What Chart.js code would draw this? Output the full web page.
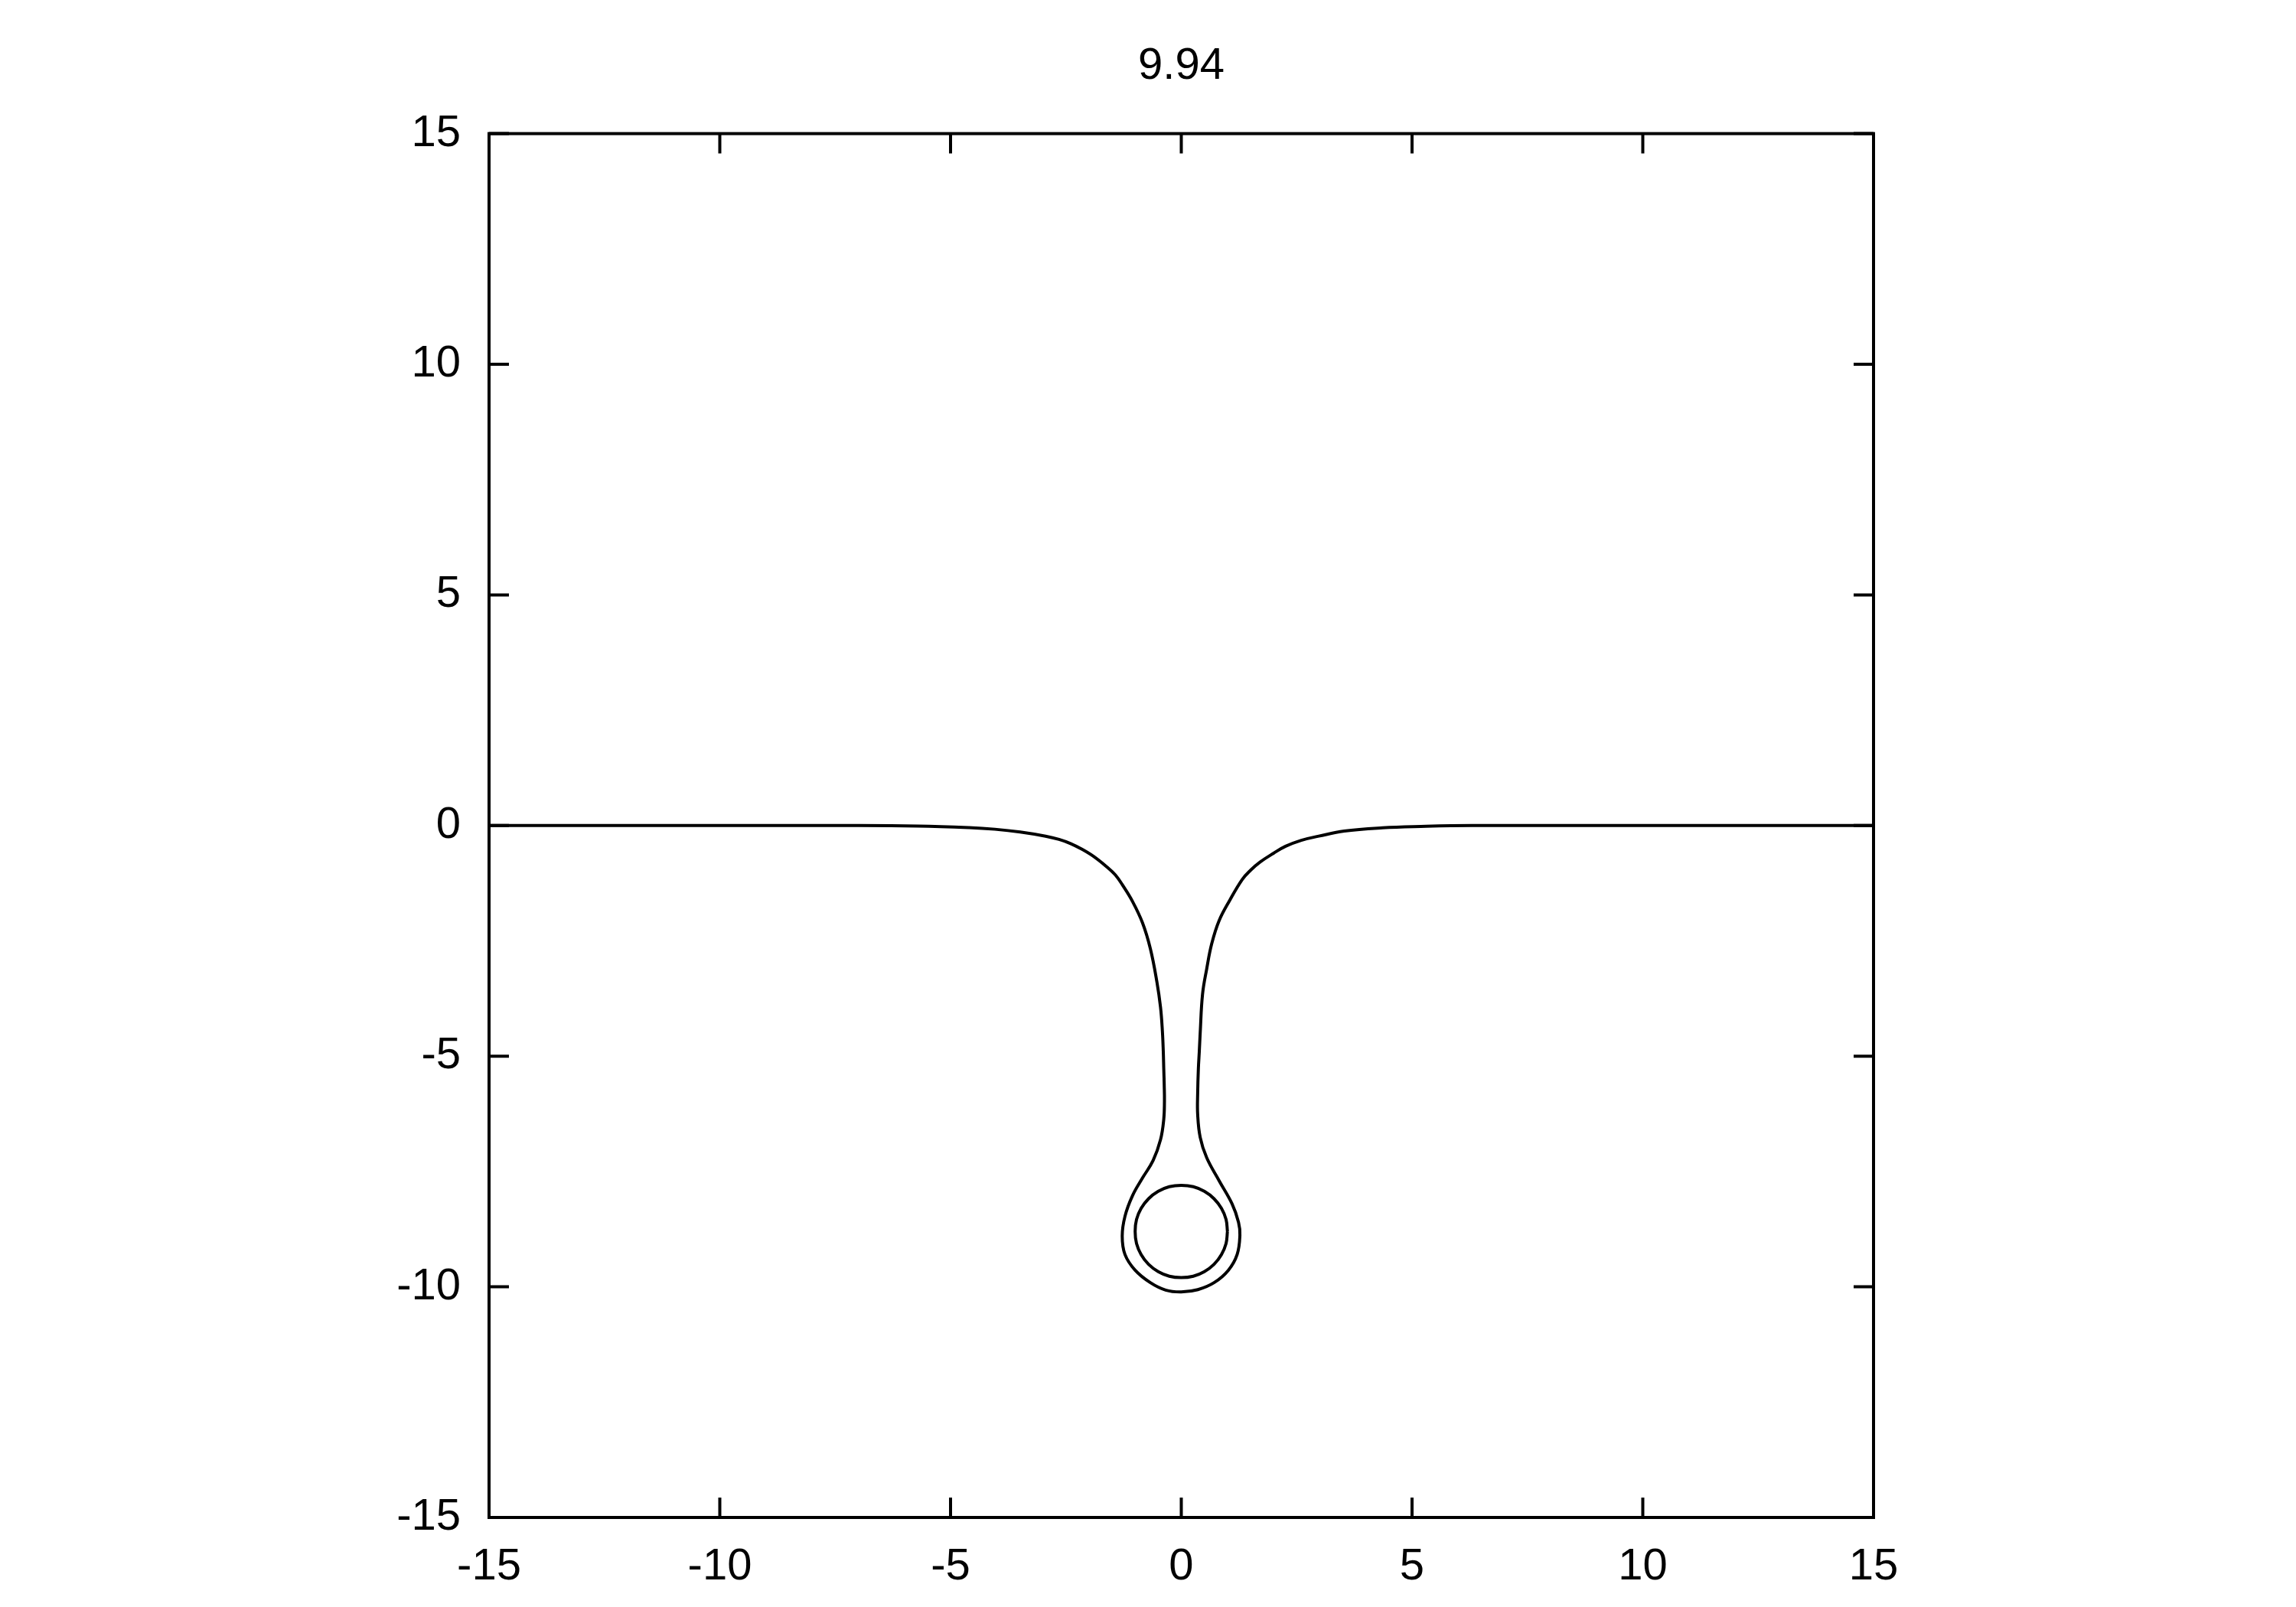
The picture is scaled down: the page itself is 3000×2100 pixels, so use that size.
<!DOCTYPE html>
<html>
<head>
<meta charset="utf-8">
<title>9.94</title>
<script src="https://cdn.jsdelivr.net/npm/chart.js@4.4.1/dist/chart.umd.min.js"></script>
<style>
  html, body { margin: 0; padding: 0; background: #fff; }
</style>
</head>
<body>
<canvas id="chart" width="3000" height="2100"></canvas>
<script>
// titre du graphe
const titleText = "9.94";

// graduations des axes
const xTicks = [-15, -10, -5, 0, 5, 10, 15];
const yTicks = [-15, -10, -5, 0, 5, 10, 15];

// courbe principale : de x=-15 vers le col, autour de la goutte, puis vers x=15
const curveX = [
  -15, -10, -7.4, -5.7, -4.6, -4.04, -3.49, -2.94, -2.65, -2.4, -2.16, -1.9, -1.61,
  -1.43, -1.28, -1.06, -0.84, -0.67, -0.53, -0.45, -0.41, -0.39, -0.38, -0.37, -0.365,
  -0.38, -0.45, -0.61, -0.84, -1.06, -1.22, -1.28, -1.22, -1.0, -0.67, -0.34, 0,
  0.36, 0.71, 1.02, 1.21, 1.27, 1.24, 1.1, 0.82, 0.55, 0.41, 0.355, 0.355, 0.37,
  0.39, 0.41, 0.46, 0.55, 0.66, 0.82, 1.05, 1.32, 1.5, 1.71, 2.0, 2.26, 2.6,
  2.98, 3.53, 4.36, 5.19, 6.3, 10, 15
];
const curveY = [
  0, 0, 0, -0.01, -0.045, -0.08, -0.14, -0.23, -0.3, -0.39, -0.51, -0.67, -0.9,
  -1.07, -1.28, -1.64, -2.11, -2.67, -3.38, -3.94, -4.45, -4.9, -5.27, -5.62, -5.98,
  -6.37, -6.81, -7.26, -7.64, -8.03, -8.47, -8.9, -9.3, -9.64, -9.91, -10.07, -10.11,
  -10.06, -9.91, -9.64, -9.3, -8.88, -8.6, -8.2, -7.7, -7.2, -6.76, -6.26, -5.8, -5.27,
  -4.9, -4.49, -3.66, -3.11, -2.56, -2.06, -1.62, -1.17, -0.97, -0.79, -0.6, -0.45, -0.32,
  -0.23, -0.12, -0.05, -0.02, 0, 0, 0
];

// petit cercle interieur
const ringX = [
  1.0, 0.97, 0.87, 0.71, 0.5, 0.26, 0, -0.26, -0.5, -0.71, -0.87, -0.97,
  -1.0, -0.97, -0.87, -0.71, -0.5, -0.26, 0, 0.26, 0.5, 0.71, 0.87, 0.97, 1.0
];
const ringY = [
  -8.8, -8.54, -8.3, -8.09, -7.93, -7.83, -7.8, -7.83, -7.93, -8.09, -8.3, -8.54,
  -8.8, -9.06, -9.3, -9.51, -9.67, -9.77, -9.8, -9.77, -9.67, -9.51, -9.3, -9.06, -8.8
];

const FONT = "'Liberation Sans', Arial, sans-serif";

function toPoints(xs, ys) {
  return xs.map((x, i) => ({ x: x, y: ys[i] }));
}

// cadre et graduations interieures, facon gnuplot
const frameTicks = {
  id: "frameTicks",
  afterDraw(chart) {
    const ctx = chart.ctx;
    const area = chart.chartArea;
    const sx = chart.scales.x;
    const sy = chart.scales.y;
    const len = 26;
    ctx.save();
    ctx.strokeStyle = "#000";
    ctx.lineWidth = 4;
    ctx.beginPath();
    xTicks.forEach((v) => {
      const px = sx.getPixelForValue(v);
      ctx.moveTo(px, area.bottom);
      ctx.lineTo(px, area.bottom - len);
      ctx.moveTo(px, area.top);
      ctx.lineTo(px, area.top + len);
    });
    yTicks.forEach((v) => {
      const py = sy.getPixelForValue(v);
      ctx.moveTo(area.left, py);
      ctx.lineTo(area.left + len, py);
      ctx.moveTo(area.right, py);
      ctx.lineTo(area.right - len, py);
    });
    ctx.stroke();
    ctx.strokeRect(area.left, area.top, area.right - area.left, area.bottom - area.top);
    ctx.restore();
  },
};

window.onload = () => {
  const ctx = document.getElementById("chart").getContext("2d");
  new Chart(ctx, {
    type: "scatter",
    data: {
      datasets: [
        {
          data: toPoints(curveX, curveY),
          showLine: true,
          borderColor: "#000",
          borderWidth: 4,
          pointRadius: 0,
          tension: 0.4,
        },
        {
          data: toPoints(ringX, ringY),
          showLine: true,
          borderColor: "#000",
          borderWidth: 4,
          pointRadius: 0,
          tension: 0.4,
        },
      ],
    },
    options: {
      responsive: false,
      animation: false,
      // 87 a gauche pour que le titre soit centre sur la zone du graphe
      layout: { padding: { left: 87, right: 0, top: 0, bottom: 0 } },
      plugins: {
        legend: { display: false },
        tooltip: { enabled: false },
        title: {
          display: true,
          text: titleText,
          color: "#000",
          font: { family: FONT, size: 58, weight: "normal" },
          padding: { top: 52, bottom: 53 },
        },
      },
      scales: {
        x: {
          type: "linear",
          min: -15,
          max: 15,
          afterBuildTicks: (s) => { s.ticks = xTicks.map((v) => ({ value: v })); },
          afterFit: (s) => { s.height = 117; },
          grid: { display: false, drawTicks: false },
          border: { display: false },
          ticks: {
            color: "#000",
            font: { family: FONT, size: 58 },
            padding: 30,
            maxRotation: 0,
            autoSkip: false,
            callback: (v) => String(v),
          },
        },
        y: {
          type: "linear",
          min: -15,
          max: 15,
          afterBuildTicks: (s) => { s.ticks = yTicks.map((v) => ({ value: v })); },
          afterFit: (s) => { s.width = 552; },
          grid: { display: false, drawTicks: false },
          border: { display: false },
          ticks: {
            color: "#000",
            font: { family: FONT, size: 58 },
            padding: 37,
            autoSkip: false,
            callback: (v) => String(v),
          },
        },
        // axe vide a droite, seulement pour la marge blanche
        yRight: {
          type: "linear",
          position: "right",
          min: -15,
          max: 15,
          afterFit: (s) => { s.width = 552; },
          grid: { display: false, drawTicks: false },
          border: { display: false },
          ticks: { display: false },
        },
      },
    },
    plugins: [frameTicks],
  });
};
</script>
</body>
</html>
